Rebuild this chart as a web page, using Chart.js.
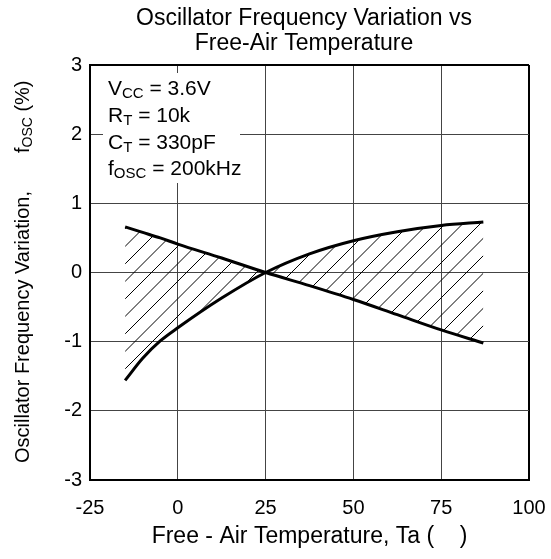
<!DOCTYPE html>
<html>
<head>
  <title>Oscillator Frequency Variation vs Free-Air Temperature</title>
  <script src="https://cdn.jsdelivr.net/npm/chart.js"></script>
  <style>
    body { margin: 0; background: #fff; }
    canvas { display: block; }
  </style>
</head>
<body>
  <canvas id="oscChart" width="551" height="559"></canvas>

  <script>
    // values
    const temps = [-15, -10, -5, 0, 12.5, 25, 37.5, 50, 62.5, 75, 87];
    const upperStart = [0.66, 0.58, 0.50, 0.41, 0.21, 0, -0.19, -0.39, -0.61, -0.83, -1.02];
    const lowerStart = [-1.56, -1.24, -0.99, -0.80, -0.37, 0, 0.27, 0.46, 0.59, 0.68, 0.73];
    const xTicks = [-25, 0, 25, 50, 75, 100];
    const yTicks = [-3, -2, -1, 0, 1, 2, 3];
    const titleLines = ["Oscillator Frequency Variation vs", "Free-Air Temperature"];
    const conditions = [
      ["V", "CC", " = 3.6V"],
      ["R", "T", " = 10k"],
      ["C", "T", " = 330pF"],
      ["f", "OSC", " = 200kHz"]
    ];

    const FONT = "'Liberation Sans', Arial, sans-serif";

    // diagonal hatch for the band between the two curves
    function makeHatch() {
      const s = 35;
      const c = document.createElement("canvas");
      c.width = s; c.height = s;
      const g = c.getContext("2d");
      g.strokeStyle = "#000";
      g.lineWidth = 1;
      for (let x0 = -s; x0 <= s; x0 += s / 2) {
        g.beginPath();
        g.moveTo(x0, s);
        g.lineTo(x0 + s, 0);
        g.stroke();
      }
      const p = document.getElementById("oscChart").getContext("2d").createPattern(c, "repeat");
      p.setTransform(new DOMMatrix().translate(4, 0));
      return p;
    }

    // text with a subscript part, returns end x
    function subText(ctx, parts, x, y, size, subSize) {
      ctx.font = size + "px " + FONT;
      ctx.fillText(parts[0], x, y);
      x += ctx.measureText(parts[0]).width;
      ctx.font = subSize + "px " + FONT;
      ctx.fillText(parts[1], x, y + 3);
      x += ctx.measureText(parts[1]).width;
      ctx.font = size + "px " + FONT;
      ctx.fillText(parts[2], x, y);
      return x + ctx.measureText(parts[2]).width;
    }

    const textPlugin = {
      id: "textPlugin",
      afterDraw(chart) {
        const ctx = chart.ctx;
        ctx.save();
        ctx.fillStyle = "#000";
        ctx.textBaseline = "alphabetic";

        // title
        ctx.textAlign = "center";
        ctx.font = "23px " + FONT;
        ctx.fillText(titleLines[0], 304, 25);
        ctx.fillText(titleLines[1], 304, 50);

        // condition box (white background hides the grid)
        ctx.textAlign = "left";
        ctx.fillStyle = "#fff";
        ctx.fillRect(103, 73, 137, 110);
        ctx.fillStyle = "#000";
        const baselines = [95, 122, 149, 175];
        conditions.forEach((c, i) => subText(ctx, c, 108, baselines[i], 21, 15));

        // y axis title
        ctx.translate(29, 463);
        ctx.rotate(-Math.PI / 2);
        ctx.font = "20px " + FONT;
        const main = "Oscillator Frequency Variation,";
        ctx.fillText(main, 0, 0);
        const x = ctx.measureText(main).width + 38;
        subText(ctx, ["f", "OSC", " (%)"], x, 0, 20, 14);
        ctx.restore();
      }
    };

    const edgeWidth = (edges) => (c) => edges.includes(c.tick.value) ? 2 : 1;
    const edgeColor = (edges) => (c) => edges.includes(c.tick.value) ? "#000" : "#444";
    // no extra room for labels hanging past the plot edges
    const noOverhang = (s) => {
      s.paddingLeft = 0; s.paddingRight = 0;
      s.paddingTop = 0; s.paddingBottom = 0;
    };

    new Chart(document.getElementById("oscChart"), {
      type: "line",
      data: {
        labels: temps,
        datasets: [
          {
            data: temps.map((t, i) => ({ x: t, y: upperStart[i] })),
            borderColor: "#000",
            borderWidth: 3,
            pointRadius: 0,
            cubicInterpolationMode: "monotone",
            fill: false
          },
          {
            data: temps.map((t, i) => ({ x: t, y: lowerStart[i] })),
            borderColor: "#000",
            borderWidth: 3,
            pointRadius: 0,
            cubicInterpolationMode: "monotone",
            fill: { target: 0 },
            backgroundColor: makeHatch()
          }
        ]
      },
      options: {
        responsive: false,
        animation: false,
        devicePixelRatio: 1,
        layout: { padding: { left: 0, right: 22, top: 65, bottom: 0 } },
        plugins: {
          legend: { display: false },
          tooltip: { enabled: false },
          title: { display: false }
        },
        scales: {
          x: {
            type: "linear",
            min: -25,
            max: 100,
            afterBuildTicks: (s) => { s.ticks = xTicks.map(v => ({ value: v })); },
            afterFit: (s) => { s.height = 79; noOverhang(s); },
            ticks: { color: "#000", font: { family: FONT, size: 20 }, padding: 16 },
            grid: { drawTicks: false, color: edgeColor([100]), lineWidth: edgeWidth([100]) },
            border: { color: "#000", width: 2 },
            title: {
              display: true,
              text: "Free - Air Temperature, Ta (    )",
              color: "#000",
              font: { family: FONT, size: 23 },
              padding: { top: 0, bottom: 9 }
            }
          },
          y: {
            min: -3,
            max: 3,
            afterBuildTicks: (s) => { s.ticks = yTicks.map(v => ({ value: v })); },
            afterFit: (s) => { s.width = 90; noOverhang(s); },
            ticks: { color: "#000", font: { family: FONT, size: 20 }, padding: 8 },
            grid: { drawTicks: false, color: edgeColor([3]), lineWidth: edgeWidth([3]) },
            border: { color: "#000", width: 2 }
          }
        }
      },
      plugins: [textPlugin]
    });
  </script>
</body>
</html>
